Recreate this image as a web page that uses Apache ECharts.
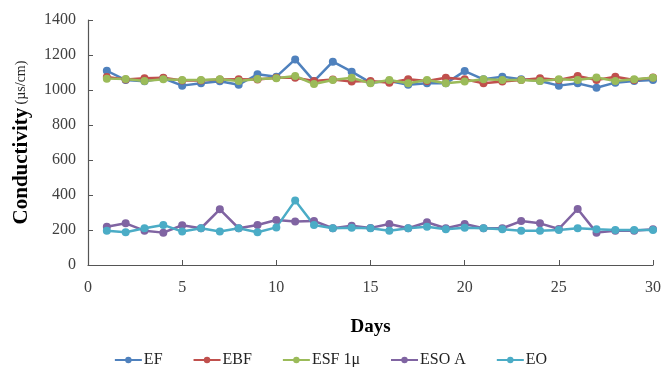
<!DOCTYPE html>
<html>
<head>
<meta charset="utf-8">
<script src="https://cdn.jsdelivr.net/npm/echarts@6/dist/echarts.min.js"></script>
<style>
  html, body { margin: 0; padding: 0; background: #fff; }
  #chart { width: 661px; height: 367px; }
</style>
</head>
<body>
<div id="chart"></div>
<script>
// Daily conductivity readings (µs/cm) over 30 days
const days = Array.from({ length: 30 }, (_, i) => i + 1);

const seriesNames = ['EF', 'EBF', 'ESF 1\u03bc', 'ESO A', 'EO'];

const valuesEF = [1110, 1057, 1050, 1067, 1025, 1038, 1050, 1030, 1090, 1076,
                  1175, 1051, 1162, 1105, 1042, 1051, 1030, 1038, 1038, 1108,
                  1061, 1076, 1061, 1051, 1025, 1038, 1013, 1042, 1051, 1057];
const valuesEBF = [1075, 1060, 1067, 1070, 1055, 1055, 1060, 1061, 1060, 1070,
                   1070, 1051, 1060, 1048, 1051, 1042, 1061, 1051, 1070, 1061,
                   1038, 1048, 1057, 1067, 1057, 1080, 1057, 1076, 1057, 1072];
const valuesESF = [1065, 1063, 1051, 1061, 1057, 1057, 1061, 1051, 1063, 1067,
                   1080, 1034, 1057, 1070, 1038, 1057, 1038, 1057, 1038, 1048,
                   1061, 1057, 1057, 1051, 1061, 1057, 1072, 1051, 1061, 1070];
const valuesESOA = [219, 238, 196, 185, 227, 210, 318, 210, 229, 257,
                    248, 252, 210, 225, 212, 234, 210, 244, 210, 234,
                    210, 210, 251, 238, 206, 320, 185, 196, 196, 204];
const valuesEO = [196, 187, 210, 229, 191, 210, 191, 210, 187, 215,
                  368, 229, 210, 213, 210, 196, 210, 219, 204, 213,
                  210, 204, 196, 196, 200, 210, 204, 200, 200, 200];

const xTicks = [0, 5, 10, 15, 20, 25, 30];
const yTicks = [0, 200, 400, 600, 800, 1000, 1200, 1400];

const colors = ['#4f81bd', '#c0504d', '#9bbb59', '#8064a2', '#4bacc6'];
const allValues = [valuesEF, valuesEBF, valuesESF, valuesESOA, valuesEO];

const serif = '"Liberation Serif", "DejaVu Serif", serif';

const chart = echarts.init(document.getElementById('chart'));
chart.setOption({
  animation: false,
  color: colors,
  grid: { left: 88, right: 8, top: 20, bottom: 102, outerBoundsMode: 'none', containLabel: false },
  xAxis: {
    type: 'value',
    min: xTicks[0],
    max: xTicks[xTicks.length - 1],
    interval: xTicks[1] - xTicks[0],
    name: 'Days',
    nameLocation: 'middle',
    nameGap: 53,
    nameTextStyle: { fontFamily: serif, fontWeight: 'bold', fontSize: 19, color: '#000' },
    axisLine: { lineStyle: { color: '#555', width: 1.2 } },
    axisTick: { inside: true, length: 5, lineStyle: { color: '#555' } },
    axisLabel: { fontFamily: serif, fontSize: 16, color: '#404040', margin: 15, formatter: v => String(v) },
    splitLine: { show: false }
  },
  yAxis: {
    type: 'value',
    min: yTicks[0],
    max: yTicks[yTicks.length - 1],
    interval: yTicks[1] - yTicks[0],
    name: '{a|Conductivity} {b|(\u00b5s/cm)}',
    nameLocation: 'middle',
    nameRotate: 90,
    nameGap: 56,
    nameTextStyle: {
      rich: {
        a: { fontFamily: serif, fontWeight: 'bold', fontSize: 21, color: '#000' },
        b: { fontFamily: serif, fontSize: 14, color: '#222' }
      }
    },
    axisLine: { show: true, lineStyle: { color: '#555', width: 1.2 } },
    axisTick: { show: true, inside: true, length: 5, lineStyle: { color: '#555' } },
    axisLabel: { fontFamily: serif, fontSize: 16, color: '#404040', margin: 12, formatter: v => String(v) },
    splitLine: { show: false }
  },
  legend: {
    top: 347,
    left: 'center',
    itemGap: 30,
    itemWidth: 27,
    itemHeight: 8,
    textStyle: { fontFamily: serif, fontSize: 16, color: '#222', padding: [0, 0, 0, -3] },
    data: seriesNames
  },
  series: seriesNames.map((name, k) => ({
    name,
    type: 'line',
    symbol: 'circle',
    symbolSize: 8,
    lineStyle: { width: 2.5 },
    data: days.map((d, i) => [d, allValues[k][i]])
  }))
});
</script>
</body>
</html>
